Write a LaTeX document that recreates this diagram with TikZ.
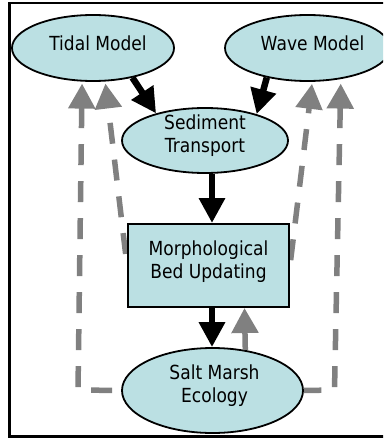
\documentclass[tikz,border=0pt]{standalone}
\usepackage{fontspec}
\setmainfont{DejaVu Sans}[FakeStretch=0.88]
\usetikzlibrary{arrows.meta,shapes.geometric,calc,backgrounds}
\definecolor{boxfill}{RGB}{187,224,227}
\definecolor{linkgray}{RGB}{128,128,128}

\begin{document}
\begin{tikzpicture}[x=1pt,y=-1pt,
  ovalnode/.style={ellipse, draw=black, line width=1.8pt, fill=boxfill, inner sep=0pt},
  rectnode/.style={rectangle, draw=black, line width=2pt, fill=boxfill, inner sep=0pt},
  caption/.style={font=\fontsize{19.4}{23}\selectfont, align=center, inner sep=0pt, text=black},
  flow/.style={draw=black, line width=6.5pt, -{Triangle[length=25pt,width=25pt]}},
  feedback/.style={draw=linkgray, line width=5.5pt, dash pattern=on 21pt off 16pt,
                   {Triangle[length=25pt,width=26pt]}-},
]
\useasboundingbox (0,0) rectangle (383,441);
\clip (0,0) rectangle (383,441);

% model components
\node[ovalnode, minimum width=162pt, minimum height=66pt] (tidal) at (93,48) {};
\node[ovalnode, minimum width=165pt, minimum height=66pt] (wave)  at (307.5,48) {};
\node[ovalnode, minimum width=166pt, minimum height=65pt] (sed)   at (205,140.5) {};
\node[rectnode, minimum width=161pt, minimum height=83pt] (morph) at (208.5,265.5) {};
\node[ovalnode, minimum width=181pt, minimum height=85pt] (salt)  at (212.5,390.5) {};

\node[caption] (tidal-t) at ($(tidal)+(5,-5)$) {Tidal Model};
\node[caption] (wave-t)  at ($(wave)+(5,-5)$)  {Wave Model};
\node[caption] (sed-t)   at ($(sed)+(0,-5)$)   {Sediment\\Transport};
\node[caption] (morph-t) at ($(morph)+(0,-4)$) {Morphological\\Bed Updating};
\node[caption] (salt-t)  at ($(salt)+(2,-5)$)  {Salt Marsh\\Ecology};

% guide coordinates for the vertical links and the feedback corners
\coordinate (ax) at (212,0);
\coordinate (gx) at (244.5,0);
\coordinate (lc) at (78,390);
\coordinate (rc) at (334.5,390);

% forward coupling
\draw[flow] (tidal.-37) -- (sed.151);
\draw[flow] (wave.-144) -- (sed.27);
\draw[flow] (sed.south -| ax) -- (morph.north -| ax);
\draw[flow] (morph.south -| ax) -- (salt.north -| ax);
\draw[feedback, solid] (morph.south -| gx) -- (salt.51);

% feedback to the hydrodynamic models
\begin{scope}[on background layer]
  \draw[feedback, shorten <=2pt] (tidal.-108) -- (lc) -- (salt.west);
  \draw[feedback, shorten <=4.5pt] (wave.-43) -- (rc) -- (salt.east);
  \draw[feedback, dash phase=21pt, shorten <=2pt] (tidal.-70) -- (morph.west);
  \draw[feedback, dash phase=15pt, shorten <=2pt] (wave.-82) -- (morph.east);
\end{scope}

% outer frame
\draw[line width=2.5pt] (9.3,3) rectangle (400,436.5);
\end{tikzpicture}
\end{document}
